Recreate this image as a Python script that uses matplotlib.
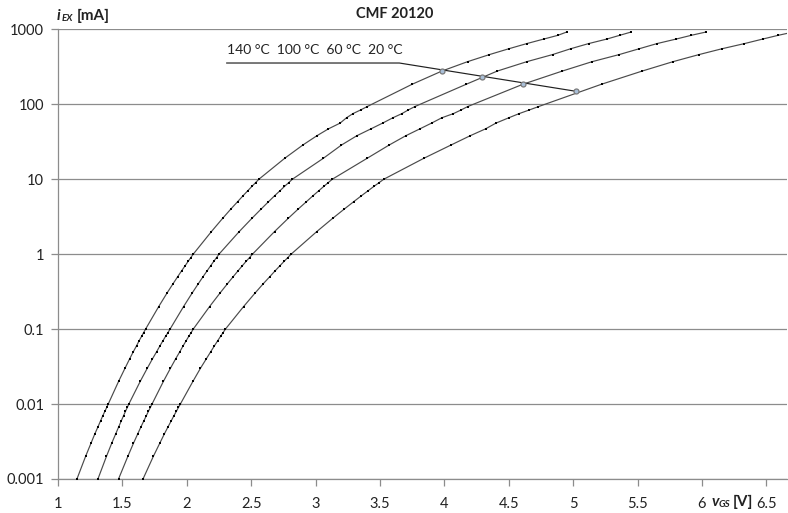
import matplotlib
matplotlib.use("Agg")
import matplotlib.pyplot as plt
import numpy as np

plt.rcParams['font.family'] = ['Lato', 'DejaVu Sans']

# measured currents [mA] (same levels for every curve)
currents = [0.001, 0.002, 0.003, 0.004, 0.005, 0.006, 0.007, 0.008, 0.009,
            0.01, 0.02, 0.03, 0.04, 0.05, 0.06, 0.07, 0.08, 0.09,
            0.1, 0.2, 0.3, 0.4, 0.5, 0.6, 0.7, 0.8, 0.9,
            1, 2, 3, 4, 5, 6, 7, 8, 9,
            10, 19, 28.5, 38, 47, 56, 66, 75, 84, 93,
            185, 277, 370, 460, 550, 645, 740, 830, 920]

v_140 = [1.147, 1.214, 1.256, 1.286, 1.311, 1.331, 1.348, 1.364, 1.378,
         1.39, 1.47, 1.52, 1.556, 1.585, 1.61, 1.63, 1.649, 1.665,
         1.68, 1.782, 1.845, 1.892, 1.929, 1.96, 1.987, 2.01, 2.031,
         2.05, 2.191, 2.278, 2.342, 2.394, 2.436, 2.473, 2.505, 2.534,
         2.56, 2.76, 2.90, 3.01, 3.10, 3.19, 3.24, 3.29, 3.35, 3.40,
         3.75, 3.98, 4.18, 4.35, 4.50, 4.64, 4.77, 4.88, 4.95]
v_100 = [1.31, 1.376, 1.417, 1.448, 1.472, 1.492, 1.509, 1.524, 1.538,
         1.55, 1.638, 1.693, 1.733, 1.766, 1.792, 1.815, 1.835, 1.854,
         1.87, 1.975, 2.04, 2.088, 2.126, 2.158, 2.185, 2.209, 2.231,
         2.25, 2.407, 2.505, 2.577, 2.634, 2.681, 2.723, 2.758, 2.791,
         2.82, 3.06, 3.20, 3.32, 3.43, 3.52, 3.60, 3.67, 3.72, 3.77,
         4.17, 4.41, 4.64, 4.84, 4.98, 5.12, 5.26, 5.36, 5.45]
v_60 = [1.47, 1.542, 1.586, 1.619, 1.645, 1.667, 1.686, 1.702, 1.717,
        1.73, 1.818, 1.873, 1.913, 1.946, 1.972, 1.995, 2.015, 2.034,
        2.05, 2.177, 2.256, 2.314, 2.36, 2.398, 2.431, 2.46, 2.487,
        2.51, 2.681, 2.787, 2.865, 2.928, 2.979, 3.024, 3.063, 3.098,
        3.13, 3.40, 3.57, 3.70, 3.81, 3.90, 3.98, 4.07, 4.13, 4.18,
        4.61, 4.915, 5.147, 5.357, 5.512, 5.651, 5.798, 5.915, 6.031]
v_20 = [1.66, 1.74, 1.79, 1.826, 1.855, 1.88, 1.90, 1.919, 1.935,
        1.95, 2.047, 2.106, 2.151, 2.186, 2.215, 2.24, 2.262, 2.282,
        2.30, 2.441, 2.528, 2.592, 2.644, 2.686, 2.723, 2.755, 2.784,
        2.81, 3.009, 3.132, 3.223, 3.295, 3.355, 3.407, 3.452, 3.493,
        3.53, 3.84, 4.05, 4.20, 4.32, 4.40, 4.50, 4.58, 4.66, 4.73,
        5.22, 5.535, 5.775, 5.977, 6.155, 6.33, 6.47, 6.59, 6.71]

curves = [v_140, v_100, v_60, v_20]

# annotation (temperature pointer)
pointer_v = [2.31, 3.65, 5.02]
pointer_i = [355, 355, 149]
marker_v = [3.98, 4.29, 4.61, 5.02]
marker_i = [275, 229, 185, 149]
temp_label = "140 °C  100 °C  60 °C  20 °C"

xticks = [1, 1.5, 2, 2.5, 3, 3.5, 4, 4.5, 5, 5.5, 6, 6.5]
xtick_labels = ['1', '1.5', '2', '2.5', '3', '3.5', '4', '4.5', '5', '5.5', '6', '6.5']
yticks = [0.001, 0.01, 0.1, 1, 10, 100, 1000]
ytick_labels = ['0.001', '0.01', '0.1', '1', '10', '100', '1000']

W, H = 788, 513
fig = plt.figure(figsize=(W / 100, H / 100), dpi=100)
ax = fig.add_axes([58 / W, 1 - 479 / H, (787 - 58) / W, (479 - 29.3) / H])

grid_c = '#8c8c8c'
ax.set_yscale('log')
ax.set_xlim(1, 6.66)
ax.set_ylim(0.001, 1000)
for y in yticks:
    ax.axhline(y, color=grid_c, lw=0.9, zorder=1)

for v in curves:
    ax.plot(v, currents, color='#4a4a4a', lw=0.85, zorder=3)
    ax.plot(v, currents, ls='none', marker='s', ms=2.1, mew=0, color='black', zorder=4)

ax.plot(pointer_v, pointer_i, color='#202020', lw=0.85, zorder=5)
ax.plot(marker_v, marker_i, ls='none', marker='o', ms=3.6,
        markerfacecolor='#a9bfd8', markeredgecolor='#7a7a7a', mew=0.9, zorder=6)
ax.text(2.31, 528, temp_label, fontsize=10, va='center', ha='left', color='#222222')

ax.set_xticks(xticks)
ax.set_xticklabels(xtick_labels)
ax.set_yticks(yticks)
ax.set_yticklabels(ytick_labels)
ax.minorticks_off()
ax.tick_params(axis='both', direction='out', length=5, width=0.9, color=grid_c,
               labelsize=10.5, labelcolor='#222222')
ax.tick_params(axis='x', pad=8)
ax.tick_params(axis='y', pad=5)
for s in ['top', 'right']:
    ax.spines[s].set_visible(False)
for s in ['left', 'bottom']:
    ax.spines[s].set_color(grid_c)
    ax.spines[s].set_linewidth(0.9)

def px(x, y):
    return x / W, 1 - y / H

fig.text(*px(395, 14), "CMF 20120", fontsize=10.5, fontweight='bold',
         ha='center', va='center', color='#222222')

fig.text(*px(57, 20), "i", fontsize=11, fontweight='bold', style='italic',
         ha='left', va='baseline', color='#222222')
fig.text(*px(62, 21), "EX", fontsize=7, fontweight='bold', style='italic',
         ha='left', va='baseline', color='#222222')
fig.text(*px(77, 20), "[mA]", fontsize=11, fontweight='bold',
         ha='left', va='baseline', color='#222222')

fig.text(*px(712, 506), "v", fontsize=11, fontweight='bold', style='italic',
         ha='left', va='baseline', color='#222222')
fig.text(*px(719, 507), "GS", fontsize=7, fontweight='bold', style='italic',
         ha='left', va='baseline', color='#222222')
fig.text(*px(733, 506), "[V]", fontsize=11, fontweight='bold',
         ha='left', va='baseline', color='#222222')

fig.savefig('out.png', dpi=100)
